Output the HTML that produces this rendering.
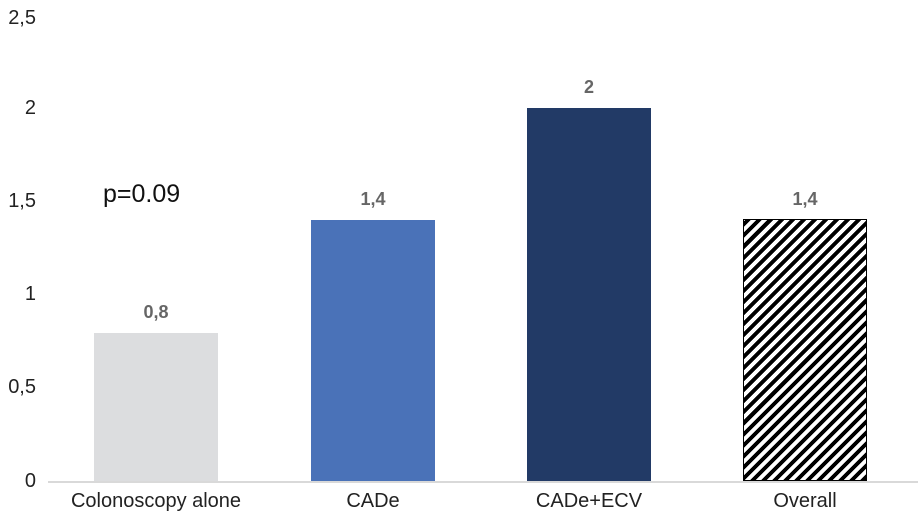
<!DOCTYPE html>
<html><head><style>
body{margin:0;width:918px;height:520px;background:#fff;position:relative;overflow:hidden;font-family:"Liberation Sans",sans-serif}
.yl{position:absolute;left:0;width:36px;text-align:right;font-size:20px;color:#222}
.bar{position:absolute;width:124px}
.v{position:absolute;width:124px;text-align:center;font-size:18px;font-weight:bold;color:#666}
.xl{position:absolute;width:240px;text-align:center;font-size:20px;color:#222;top:490px}
</style></head><body>
<div class="yl" style="top:7px">2,5</div>
<div class="yl" style="top:97px">2</div>
<div class="yl" style="top:190px">1,5</div>
<div class="yl" style="top:283px">1</div>
<div class="yl" style="top:376px">0,5</div>
<div class="yl" style="top:470px">0</div>
<div style="position:absolute;left:48px;right:0;top:481px;height:2px;background:#d9d9d9"></div>
<div class="bar" style="left:94px;top:333px;height:148px;background:#dcdddf"></div>
<div class="bar" style="left:311px;top:220px;height:261px;background:#4a72b8"></div>
<div class="bar" style="left:527px;top:108px;height:373px;background:#223a66"></div>
<div class="bar" style="left:743px;top:219px;height:262px;box-sizing:border-box;border:1.5px solid #000;background:repeating-linear-gradient(-45deg,#000 0,#000 3.9px,#fff 3.9px,#fff 7.8px)"></div>
<div class="v" style="left:94px;top:302px">0,8</div>
<div class="v" style="left:311px;top:189px">1,4</div>
<div class="v" style="left:527px;top:77px">2</div>
<div class="v" style="left:743px;top:189px">1,4</div>
<div style="position:absolute;left:103px;top:180px;font-size:25px;color:#111">p=0.09</div>
<div class="xl" style="left:36px">Colonoscopy alone</div>
<div class="xl" style="left:253px">CADe</div>
<div class="xl" style="left:469px">CADe+ECV</div>
<div class="xl" style="left:685px">Overall</div>
</body></html>
